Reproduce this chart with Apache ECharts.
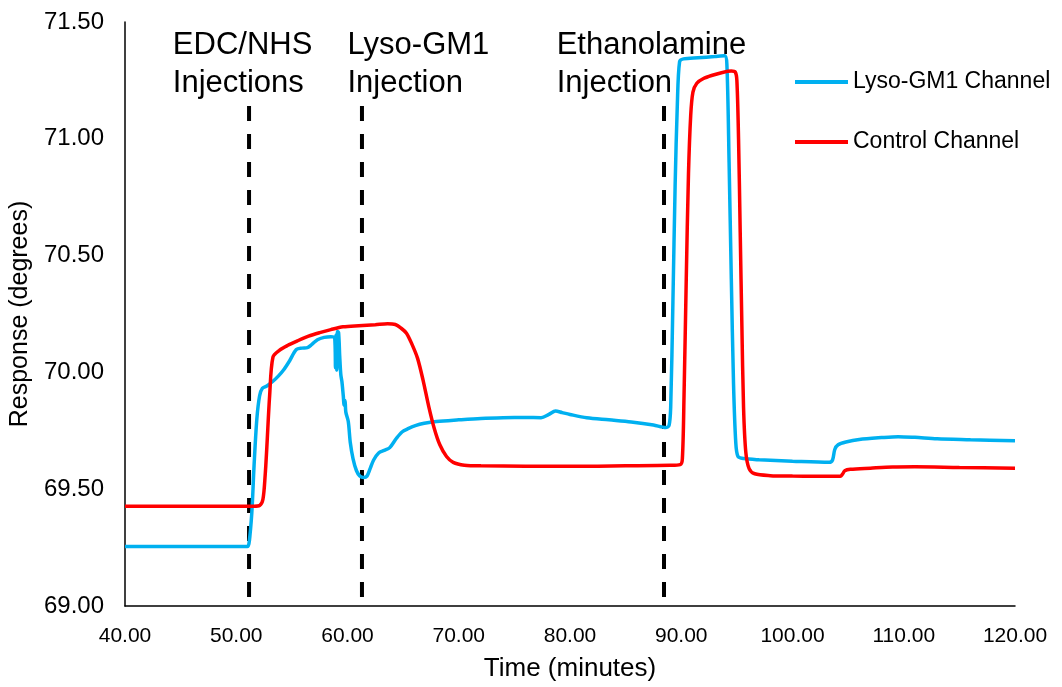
<!DOCTYPE html>
<html>
<head>
<meta charset="utf-8">
<title>Response vs Time</title>
<script src="https://cdn.jsdelivr.net/npm/echarts@6/dist/echarts.min.js"></script>
<style>
  html, body { margin: 0; padding: 0; background: #fff; }
  #chart { width: 1062px; height: 687px; }
</style>
</head>
<body>
<div id="chart"></div>
<script>
// Time axis ticks (minutes) and response axis ticks (degrees)
const xTicks = [40, 50, 60, 70, 80, 90, 100, 110, 120];
const yTicks = [69.0, 69.5, 70.0, 70.5, 71.0, 71.5];

// Lyso-GM1 channel trace: [time (min), response (deg)]
const lysoChannel = [
  [40, 69.255], [51.0, 69.255], [51.15, 69.27], [51.4, 69.4], [51.6, 69.6], [51.85, 69.8],
  [52.1, 69.9], [52.35, 69.932], [52.75, 69.942], [53.3, 69.962], [53.8, 69.985], [54.25, 70.01],
  [54.8, 70.05], [55.4, 70.098], [55.9, 70.104], [56.4, 70.106], [56.8, 70.12], [57.3, 70.14],
  [57.9, 70.15], [58.5, 70.153], [58.85, 70.148], [58.92, 70.02], [58.98, 70.16], [59.04, 70.01],
  [59.1, 70.175], [59.2, 70.17], [59.3, 70.07], [59.4, 69.99], [59.5, 69.96], [59.62, 69.9],
  [59.7, 69.86], [59.78, 69.88], [59.85, 69.83], [60.07, 69.79], [60.25, 69.7], [60.5, 69.63],
  [60.8, 69.58], [61.1, 69.557], [61.45, 69.55], [61.75, 69.556], [62.05, 69.59], [62.35, 69.625],
  [62.8, 69.655], [63.3, 69.666], [63.8, 69.678], [64.4, 69.718], [64.9, 69.745], [65.4, 69.758],
  [66.1, 69.772], [66.9, 69.782], [68.0, 69.79], [70.0, 69.797], [72.0, 69.803], [74.0, 69.806],
  [76.0, 69.807], [77.4, 69.806], [78.1, 69.82], [78.7, 69.835], [79.3, 69.828], [80.0, 69.82],
  [81.5, 69.806], [83.5, 69.797], [85.5, 69.788], [87.5, 69.775], [88.6, 69.764], [88.9, 69.772],
  [89.05, 69.85], [89.25, 70.3], [89.45, 70.8], [89.65, 71.15], [89.85, 71.33], [90.2, 71.342],
  [91.5, 71.347], [93.0, 71.352], [93.9, 71.355], [94.1, 71.32], [94.3, 70.9], [94.5, 70.4],
  [94.7, 69.95], [94.9, 69.7], [95.1, 69.64], [95.6, 69.631], [97.0, 69.626], [100.0, 69.62],
  [103.3, 69.615], [103.6, 69.625], [103.8, 69.67], [104.1, 69.69], [104.8, 69.702], [106.0, 69.713],
  [108.0, 69.721], [109.5, 69.725], [111.0, 69.722], [113.0, 69.716], [116.0, 69.712], [120.0, 69.707]
];

// Control channel trace: [time (min), response (deg)]
const controlChannel = [
  [40, 69.427], [51.6, 69.427], [52.1, 69.43], [52.4, 69.457], [52.6, 69.56], [52.75, 69.68],
  [53.0, 69.9], [53.3, 70.065], [53.9, 70.095], [54.6, 70.115], [55.5, 70.135], [56.5, 70.155],
  [57.5, 70.17], [58.5, 70.183], [59.6, 70.195], [61.0, 70.2], [62.5, 70.204], [63.6, 70.208],
  [64.3, 70.205], [64.8, 70.19], [65.3, 70.168], [65.8, 70.12], [66.3, 70.06], [66.8, 69.965],
  [67.3, 69.855], [67.8, 69.76], [68.3, 69.69], [68.9, 69.64], [69.5, 69.615], [70.5, 69.603],
  [72.0, 69.6], [80.0, 69.598], [85.0, 69.6], [89.0, 69.602], [89.9, 69.605], [90.1, 69.63],
  [90.25, 69.9], [90.45, 70.4], [90.65, 70.85], [90.85, 71.1], [91.05, 71.2], [91.4, 71.238],
  [92.0, 71.258], [92.8, 71.272], [93.7, 71.284], [94.5, 71.29], [94.85, 71.286], [95.0, 71.25],
  [95.15, 71.0], [95.3, 70.6], [95.45, 70.2], [95.6, 69.85], [95.8, 69.66], [96.1, 69.588],
  [96.6, 69.566], [98.0, 69.558], [100.0, 69.556], [102.0, 69.555], [104.3, 69.555], [104.5, 69.565],
  [104.7, 69.579], [105.2, 69.585], [107.0, 69.59], [109.0, 69.595], [111.0, 69.596], [115.0, 69.593],
  [120.0, 69.59]
];

// Injection events: time of injection (min), top of marker line (deg)
const injectionTimes = [51.15, 61.3, 88.45];
const injectionTop = 71.14;

// Event captions anchored at [time, response]
const captions = [
  [44.3, 71.32, 'EDC/NHS\nInjections'],
  [60.0, 71.32, 'Lyso-GM1\nInjection'],
  [78.8, 71.32, 'Ethanolamine\nInjection']
];

const FONT = "'Liberation Sans', Arial, sans-serif";
const BLUE = '#00B0F0';
const RED = '#FF0000';

const chart = echarts.init(document.getElementById('chart'), null, { renderer: 'canvas' });

const injectionSeries = injectionTimes.map(t => ({
  type: 'line',
  data: [[t, injectionTop], [t, yTicks[0]]],
  showSymbol: false,
  silent: true,
  animation: false,
  z: 1,
  lineStyle: { color: '#000', width: 4, type: [15, 13] }
}));

chart.setOption({
  animation: false,
  backgroundColor: '#fff',
  grid: { left: 125, right: 47, top: 22, bottom: 80, containLabel: false },
  legend: {
    orient: 'vertical',
    left: 795,
    top: 70,
    padding: 0,
    itemWidth: 53,
    itemHeight: 4,
    itemGap: 36,
    icon: 'rect',
    data: ['Lyso-GM1 Channel', 'Control Channel'],
    textStyle: { fontFamily: FONT, fontSize: 23, color: '#000', lineHeight: 24 }
  },
  xAxis: {
    type: 'value',
    min: xTicks[0],
    max: xTicks[xTicks.length - 1],
    interval: 10,
    name: 'Time (minutes)',
    nameLocation: 'middle',
    nameGap: 50,
    nameTextStyle: { fontFamily: FONT, fontSize: 26, color: '#000' },
    axisLine: { show: true, lineStyle: { color: '#000', width: 1.5 } },
    axisTick: { show: false },
    splitLine: { show: false },
    axisLabel: {
      margin: 20, color: '#000', fontFamily: FONT, fontSize: 21,
      formatter: v => v.toFixed(2)
    }
  },
  yAxis: {
    type: 'value',
    min: yTicks[0],
    max: yTicks[yTicks.length - 1],
    interval: 0.5,
    name: 'Response (degrees)',
    nameLocation: 'middle',
    nameGap: 90,
    nameTextStyle: { fontFamily: FONT, fontSize: 25, color: '#000' },
    axisLine: { show: true, lineStyle: { color: '#000', width: 1.5 } },
    axisTick: { show: false },
    splitLine: { show: false },
    axisLabel: {
      margin: 21, color: '#000', fontFamily: FONT, fontSize: 24,
      formatter: v => v.toFixed(2)
    }
  },
  series: [
    ...injectionSeries,
    {
      name: 'Lyso-GM1 Channel',
      type: 'line',
      data: lysoChannel,
      showSymbol: false,
      smooth: 0.3,
      z: 3,
      color: BLUE,
      lineStyle: { color: BLUE, width: 3.5 }
    },
    {
      name: 'Control Channel',
      type: 'line',
      data: controlChannel,
      showSymbol: false,
      smooth: 0.3,
      z: 4,
      color: RED,
      lineStyle: { color: RED, width: 3.5 }
    },
    {
      type: 'scatter',
      data: captions,
      symbolSize: 0,
      silent: true,
      z: 5,
      itemStyle: { opacity: 1 },
      label: {
        show: true,
        position: 'right',
        distance: 0,
        align: 'left',
        formatter: p => p.data[2],
        fontFamily: FONT,
        fontSize: 31,
        lineHeight: 38,
        color: '#000',
        opacity: 1
      }
    }
  ]
});
</script>
</body>
</html>
